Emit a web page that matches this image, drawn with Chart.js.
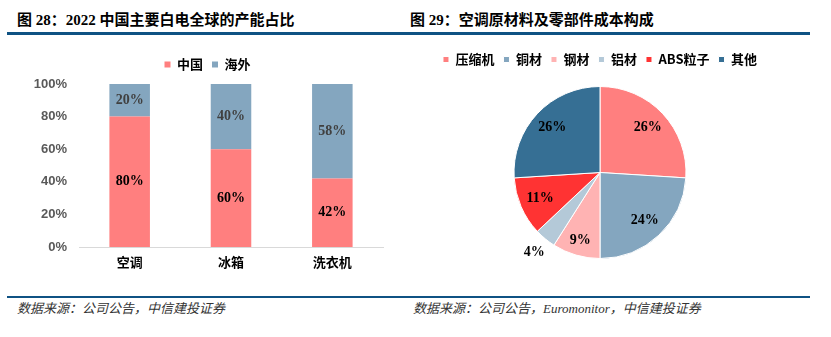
<!DOCTYPE html>
<html>
<head>
<meta charset="utf-8">
<script src="https://cdn.jsdelivr.net/npm/chart.js@4.4.0/dist/chart.umd.min.js"></script>
<style>
  body { margin: 0; background: #fff; width: 831px; height: 337px; position: relative; overflow: hidden;
         font-family: "Liberation Serif", "Noto Sans CJK SC", serif; }
  .title { position: absolute; top: 11px; font-size: 15px; font-weight: bold; color: #000; line-height: 18px; white-space: nowrap; }
  .rule { position: absolute; background: #0f5283; }
  .src { position: absolute; top: 301px; font-size: 13px; font-style: italic; color: #333; white-space: nowrap; line-height: 16px; }
  canvas { position: absolute; }
</style>
</head>
<body>
<div class="title" style="left:17px">图 28：2022 中国主要白电全球的产能占比</div>
<div class="title" style="left:410px">图 29：空调原材料及零部件成本构成</div>
<div class="rule" style="left:7px;top:32px;width:803px;height:3px"></div>

<canvas id="barChart" width="410" height="240" style="left:0;top:40px"></canvas>
<canvas id="pieChart" width="400" height="240" style="left:415px;top:40px"></canvas>

<div class="rule" style="left:7px;top:296px;width:803px;height:2px"></div>
<div class="src" style="left:17px">数据来源：公司公告，中信建投证券</div>
<div class="src" style="left:413px">数据来源：公司公告，Euromonitor，中信建投证券</div>

<script>
  // left chart: capacity share
  const categories = ["空调", "冰箱", "洗衣机"];
  const chinaShare = [80, 60, 42];
  const overseasShare = [20, 40, 58];

  // right chart: cost structure
  const pieLabels = ["压缩机", "铜材", "钢材", "铝材", "ABS粒子", "其他"];
  const pieValues = [26, 24, 9, 4, 11, 26];
  const pieColors = ["#FF7F7F", "#84A6BF", "#FFB3B3", "#B4C9D8", "#FF3333", "#366F94"];

  const cjk = '"Noto Sans CJK SC", sans-serif';

  // draws the % labels on bars and slices
  const valueLabels = {
    id: "valueLabels",
    afterDatasetsDraw(chart) {
      const ctx = chart.ctx;
      ctx.save();
      ctx.font = "bold 14px 'Liberation Serif', serif";
      ctx.textAlign = "center";
      ctx.textBaseline = "middle";
      chart.data.datasets.forEach((ds, i) => {
        const meta = chart.getDatasetMeta(i);
        meta.data.forEach((el, j) => {
          const v = ds.data[j];
          let x, y;
          if (chart.config.type === "bar") {
            x = el.x;
            y = (el.y + el.base) / 2;
            ctx.fillStyle = i === 0 ? "#000" : "#404040";
          } else {
            const p = el.getProps(["x", "y", "startAngle", "endAngle", "outerRadius"], true);
            const mid = (p.startAngle + p.endAngle) / 2;
            // small slices get pushed outward, the tiniest one outside
            const f = v < 6 ? 1.2 : v < 10 ? 0.82 : 0.76;
            x = p.x + Math.cos(mid) * p.outerRadius * f;
            y = p.y + Math.sin(mid) * p.outerRadius * f;
            ctx.fillStyle = "#000";
          }
          ctx.fillText(v + "%", x, y);
        });
      });
      ctx.restore();
    }
  };

  // adds empty room under the legend row
  const legendGap = {
    id: "legendGap",
    beforeUpdate(chart, args, opts) {
      const lg = chart.legend;
      if (!lg || lg._gapPatched) return;
      const fit = lg.fit;
      lg.fit = function () {
        fit.call(this);
        this.height += opts.extra || 0;
      };
      lg._gapPatched = true;
    }
  };

  new Chart(document.getElementById("barChart"), {
    type: "bar",
    data: {
      labels: categories,
      datasets: [
        { label: "中国", data: chinaShare, backgroundColor: "#FF7F7F" },
        { label: "海外", data: overseasShare, backgroundColor: "#84A6BF" }
      ]
    },
    options: {
      responsive: false,
      animation: false,
      datasets: { bar: { barPercentage: 0.4, categoryPercentage: 1 } },
      layout: { padding: { left: 32, right: 27, top: 9, bottom: 3 } },
      plugins: {
        legend: {
          position: "top",
          labels: { boxWidth: 6, boxHeight: 6, padding: 9, color: "#000",
                    font: { family: cjk, size: 13, weight: "bold" } }
        },
        legendGap: { extra: 3 },
        tooltip: { enabled: false }
      },
      scales: {
        x: {
          stacked: true,
          grid: { display: false, drawTicks: false },
          border: { color: "#d9d9d9" },
          ticks: { padding: 7, color: "#000", font: { family: cjk, size: 13, weight: "bold" } },
          afterFit(s) { s.height = 30; }
        },
        y: {
          stacked: true,
          min: 0,
          max: 100,
          grid: { display: false, drawTicks: false },
          border: { display: false },
          ticks: { stepSize: 20, padding: 12, color: "#595959",
                   font: { family: '"Liberation Sans", Arial, sans-serif', size: 13, weight: "bold" },
                   callback: (v) => v + "%" },
          afterFit(s) { s.width = 47; }
        }
      }
    },
    plugins: [valueLabels, legendGap]
  });

  new Chart(document.getElementById("pieChart"), {
    type: "pie",
    data: {
      labels: pieLabels,
      datasets: [{ data: pieValues, backgroundColor: pieColors, borderColor: "#fff", borderWidth: 1 }]
    },
    options: {
      responsive: false,
      animation: false,
      layout: { padding: { left: 0, right: 30, top: 4, bottom: 21 } },
      plugins: {
        legend: {
          position: "top",
          labels: { boxWidth: 6, boxHeight: 6, padding: 9, color: "#000",
                    font: { family: cjk, size: 13, weight: "bold" } }
        },
        legendGap: { extra: 10 },
        tooltip: { enabled: false }
      }
    },
    plugins: [valueLabels, legendGap]
  });
</script>
</body>
</html>
